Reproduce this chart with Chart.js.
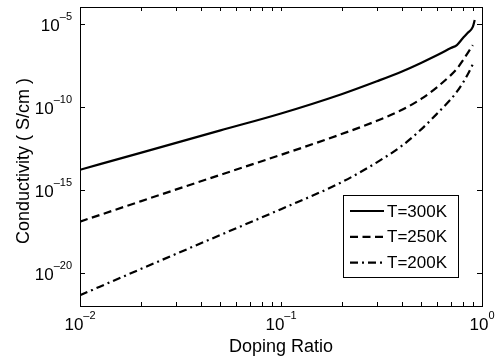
<!DOCTYPE html>
<html>
<head>
<meta charset="utf-8">
<script src="https://cdn.jsdelivr.net/npm/chart.js@4.4.0/dist/chart.umd.min.js"></script>
<style>
  html, body { margin: 0; padding: 0; background: #fff; }
  #wrap { width: 498px; height: 357px; }
</style>
</head>
<body>
<div id="wrap"><canvas id="chart"></canvas></div>
<script>
// doping ratio (x) and log10 of conductivity
const dopingRatio = [0.01, 0.02, 0.05, 0.1, 0.2, 0.3, 0.4, 0.5, 0.6, 0.7, 0.75, 0.8, 0.85, 0.9, 0.92];
const logCond300 = [-13.8, -12.78, -11.43, -10.41, -9.25, -8.47, -7.88, -7.35, -6.89, -6.47, -6.29, -5.9, -5.55, -5.2, -4.78];
const logCond250 = [-16.92, -15.7, -14.1, -12.9, -11.65, -10.85, -10.19, -9.52, -8.81, -8.1, -7.72, -7.25, -6.76, -6.3];
const logCond200 = [-21.35, -19.78, -17.72, -16.17, -14.55, -13.35, -12.35, -11.35, -10.4, -9.55, -9.1, -8.6, -8.05, -7.45];
const seriesLabels = ['T=300K', 'T=250K', 'T=200K'];
const seriesDash = [[], [8, 4.5], [8, 4, 2, 4]];
const xTickExps = [-2, -1, 0];
const yTickExps = [-20, -15, -10, -5];
const xTitle = 'Doping Ratio';
const yTitle = 'Conductivity ( S/cm )';

const FONT = '"Liberation Sans", Arial, sans-serif';

function toPoints(logs) {
  return logs.map((e, i) => ({ x: dopingRatio[i], y: Math.pow(10, e) }));
}

// 10 with a raised exponent, like matlab's tick labels
function drawPower(ctx, exp, x, y, align) {
  const base = '10', sup = String(exp).replace('-', '\u2013');
  ctx.font = '17px ' + FONT;
  const wb = ctx.measureText(base).width;
  ctx.font = '11px ' + FONT;
  const ws = ctx.measureText(sup).width;
  let left = align === 'right' ? x - wb - ws : x - (wb + ws) / 2;
  ctx.textAlign = 'left';
  ctx.textBaseline = 'alphabetic';
  ctx.font = '17px ' + FONT;
  ctx.fillText(base, left, y);
  ctx.font = '11px ' + FONT;
  ctx.fillText(sup, left + wb, y - 11);
}

const matlabAxes = {
  id: 'matlabAxes',
  afterDraw(chart) {
    const { ctx, chartArea: a, scales } = chart;
    const xs = scales.x, ys = scales.y;
    ctx.save();
    ctx.strokeStyle = '#000';
    ctx.fillStyle = '#000';
    ctx.lineWidth = 1;
    ctx.setLineDash([]);
    ctx.strokeRect(Math.round(a.left) + 0.5, Math.round(a.top) + 0.5,
      Math.round(a.right - a.left), Math.round(a.bottom - a.top));

    // x ticks, major and minor, pointing inward top and bottom
    ctx.beginPath();
    for (let e = xTickExps[0]; e < xTickExps[xTickExps.length - 1]; e++) {
      for (let m = 1; m < 10; m++) {
        const px = Math.round(xs.getPixelForValue(m * Math.pow(10, e))) + 0.5;
        ctx.moveTo(px, a.bottom); ctx.lineTo(px, a.bottom - 4);
        ctx.moveTo(px, a.top); ctx.lineTo(px, a.top + 4);
      }
    }
    yTickExps.forEach(e => {
      const py = Math.round(ys.getPixelForValue(Math.pow(10, e))) + 0.5;
      ctx.moveTo(a.left, py); ctx.lineTo(a.left + 5, py);
      ctx.moveTo(a.right, py); ctx.lineTo(a.right - 5, py);
    });
    ctx.stroke();

    xTickExps.forEach(e => {
      drawPower(ctx, e, xs.getPixelForValue(Math.pow(10, e)), a.bottom + 24, 'center');
    });
    yTickExps.forEach(e => {
      drawPower(ctx, e, a.left - 8, ys.getPixelForValue(Math.pow(10, e)) + 7, 'right');
    });

    ctx.font = '18px ' + FONT;
    ctx.textAlign = 'center';
    ctx.textBaseline = 'alphabetic';
    ctx.fillText(xTitle, (a.left + a.right) / 2, 352);
    ctx.save();
    ctx.translate(29, 161);
    ctx.rotate(-Math.PI / 2);
    ctx.fillText(yTitle, 0, 0);
    ctx.restore();

    // legend box inside the axes
    const lx = 343, ly = 195, lw = 115, lh = 82;
    ctx.fillStyle = '#fff';
    ctx.fillRect(lx, ly, lw, lh);
    ctx.strokeRect(lx + 0.5, ly + 0.5, lw, lh);
    ctx.fillStyle = '#000';
    ctx.font = '17px ' + FONT;
    ctx.textAlign = 'left';
    ctx.textBaseline = 'middle';
    chart.data.datasets.forEach((ds, i) => {
      const ry = 211 + i * 25.8;
      ctx.lineWidth = ds.borderWidth;
      ctx.setLineDash(ds.borderDash);
      ctx.beginPath();
      ctx.moveTo(350, ry); ctx.lineTo(384, ry);
      ctx.stroke();
      ctx.setLineDash([]);
      ctx.fillText(ds.label, 387, ry + 1);
    });
    ctx.restore();
  }
};

const datasets = [logCond300, logCond250, logCond200].map((logs, i) => ({
  label: seriesLabels[i],
  data: toPoints(logs),
  borderColor: '#000',
  borderWidth: 2.2,
  borderDash: seriesDash[i],
  pointRadius: 0,
  fill: false,
  cubicInterpolationMode: 'monotone'
}));

new Chart(document.getElementById('chart'), {
  type: 'line',
  data: { datasets },
  options: {
    responsive: true,
    maintainAspectRatio: false,
    animation: false,
    layout: { padding: { top: 7, right: 16, left: 0, bottom: 0 } },
    plugins: { legend: { display: false }, tooltip: { enabled: false } },
    scales: {
      x: {
        type: 'logarithmic', min: 0.01, max: 1,
        grid: { display: false }, border: { display: false },
        ticks: { display: false },
        afterFit: s => { s.height = 51; }
      },
      y: {
        type: 'logarithmic', min: 1e-22, max: 1e-4,
        grid: { display: false }, border: { display: false },
        ticks: { display: false },
        afterFit: s => { s.width = 80; }
      }
    }
  },
  plugins: [matlabAxes]
});
</script>
</body>
</html>
